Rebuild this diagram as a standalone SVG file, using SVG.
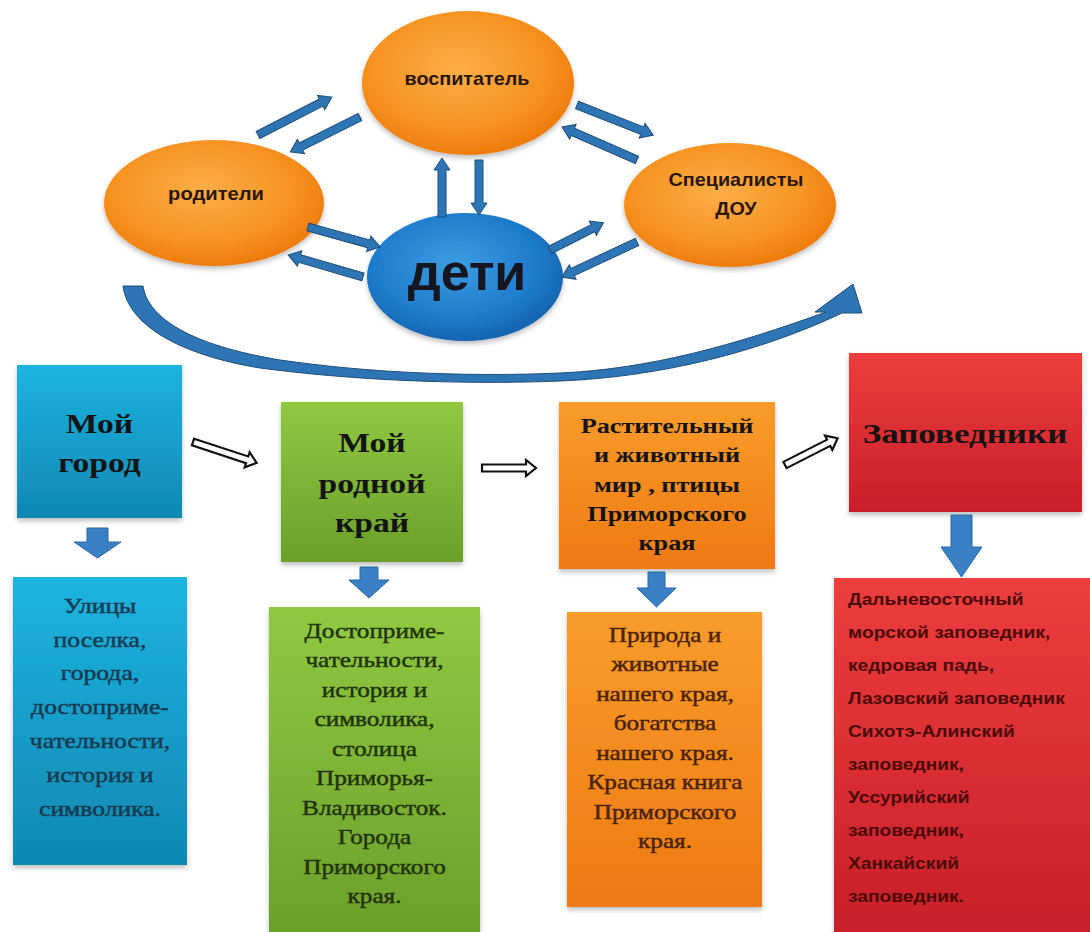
<svg xmlns="http://www.w3.org/2000/svg" width="1090" height="932" viewBox="0 0 1090 932">
<defs>
<style>
.ell{font-family:"Liberation Sans",Arial,sans-serif;font-weight:bold;font-size:18px;fill:#2a1608;text-anchor:middle}
.hdr{font-family:"Liberation Serif","Times New Roman",serif;font-weight:bold;text-anchor:middle;fill:#141414}
.body{font-family:"Liberation Serif","Times New Roman",serif;font-size:21px;text-anchor:middle;stroke-width:0.45}
.red{font-family:"Liberation Sans",Arial,sans-serif;font-weight:bold;font-size:16px;fill:#4a0a0a}
.barrow{fill:#2e75b6;stroke:#1f4e79;stroke-width:1}
.harrow{fill:#ffffff;stroke:#111111;stroke-width:2.2;stroke-linejoin:miter}
.fat{fill:#3a80c4;stroke:#2a66a3;stroke-width:1}
</style>
<radialGradient id="gOr" cx="0.45" cy="0.4" r="0.6">
<stop offset="0" stop-color="#fcae48"/><stop offset="0.7" stop-color="#f7921f"/><stop offset="1" stop-color="#ee7c0c"/>
</radialGradient>
<radialGradient id="gBl" cx="0.45" cy="0.4" r="0.6">
<stop offset="0" stop-color="#3d9de2"/><stop offset="0.7" stop-color="#1e7bcc"/><stop offset="1" stop-color="#1564b0"/>
</radialGradient>
<linearGradient id="gBlue" x1="0" y1="0" x2="0" y2="1"><stop offset="0" stop-color="#1db4e0"/><stop offset="1" stop-color="#0f88b2"/></linearGradient>
<linearGradient id="gGreen" x1="0" y1="0" x2="0" y2="1"><stop offset="0" stop-color="#90c941"/><stop offset="1" stop-color="#6b9f2a"/></linearGradient>
<linearGradient id="gOrange" x1="0" y1="0" x2="0" y2="1"><stop offset="0" stop-color="#f99c2b"/><stop offset="1" stop-color="#ee7a12"/></linearGradient>
<linearGradient id="gRed" x1="0" y1="0" x2="0" y2="1"><stop offset="0" stop-color="#ee3d3d"/><stop offset="1" stop-color="#c81f28"/></linearGradient>
<filter id="sh" x="-10%" y="-10%" width="120%" height="125%">
<feDropShadow dx="0" dy="3" stdDeviation="2.5" flood-color="#000" flood-opacity="0.25"/>
</filter>
</defs>
<rect width="1090" height="932" fill="#ffffff"/>

<g id="n-vospitatel">
<ellipse cx="468" cy="83" rx="106" ry="72" fill="url(#gOr)" filter="url(#sh)"/>
<g transform="translate(467,0) scale(1.1,1)"><text class="ell" x="0" y="85">воспитатель</text></g>
</g>
<g id="n-roditeli">
<ellipse cx="214" cy="203" rx="110" ry="63" fill="url(#gOr)" filter="url(#sh)"/>
<g transform="translate(216,0) scale(1.12,1)"><text class="ell" x="0" y="200">родители</text></g>
</g>
<g id="n-specialisty">
<ellipse cx="730" cy="205" rx="106" ry="62" fill="url(#gOr)" filter="url(#sh)"/>
<g transform="translate(736,0) scale(1.1,1)"><text class="ell" x="0" y="186">Специалисты</text><text class="ell" x="0" y="215">ДОУ</text></g>
</g>
<g id="n-deti">
<ellipse cx="465" cy="277" rx="98" ry="64" fill="url(#gBl)" filter="url(#sh)"/>
<text x="467" y="290" font-family="'Liberation Sans',Arial,sans-serif" font-weight="bold" font-size="52" fill="#161620" text-anchor="middle">дети</text>
</g>

<g id="n-moy-gorod">
<rect x="17" y="365" width="165" height="153" fill="url(#gBlue)" filter="url(#sh)"/>
<g transform="translate(99.5,0) scale(1.2,1)"><text class="hdr" font-size="28" x="0" y="433">Мой</text><text class="hdr" font-size="28" x="0" y="472">город</text></g>
</g>
<g id="n-ulitsy">
<rect x="13" y="577" width="174" height="288" fill="url(#gBlue)" filter="url(#sh)"/>
<g transform="translate(100,0) scale(1.22,1)" fill="#173a50" stroke="#173a50">
<text class="body" x="0" y="613">Улицы</text>
<text class="body" x="0" y="647">поселка,</text>
<text class="body" x="0" y="680">города,</text>
<text class="body" x="0" y="714">достоприме-</text>
<text class="body" x="0" y="748">чательности,</text>
<text class="body" x="0" y="782">история и</text>
<text class="body" x="0" y="816">символика.</text>
</g>
</g>

<g id="n-rodnoy-kray">
<rect x="281" y="402" width="182" height="160" fill="url(#gGreen)" filter="url(#sh)"/>
<g transform="translate(372,0) scale(1.2,1)"><text class="hdr" font-size="28" x="0" y="452">Мой</text><text class="hdr" font-size="28" x="0" y="493">родной</text><text class="hdr" font-size="28" x="0" y="532">край</text></g>
</g>
<g id="n-dostoprim">
<rect x="269" y="607" width="211" height="330" fill="url(#gGreen)" filter="url(#sh)"/>
<g transform="translate(374.5,0) scale(1.2,1)" fill="#22330c" stroke="#22330c">
<text class="body" x="0" y="638">Достоприме-</text>
<text class="body" x="0" y="667.5">чательности,</text>
<text class="body" x="0" y="697">история и</text>
<text class="body" x="0" y="726.5">символика,</text>
<text class="body" x="0" y="756">столица</text>
<text class="body" x="0" y="785.5">Приморья-</text>
<text class="body" x="0" y="815">Владивосток.</text>
<text class="body" x="0" y="844.5">Города</text>
<text class="body" x="0" y="874">Приморского</text>
<text class="body" x="0" y="903.5">края.</text>
</g>
</g>

<g id="n-rastit">
<rect x="559" y="402" width="216" height="167" fill="url(#gOrange)" filter="url(#sh)"/>
<g transform="translate(667,0) scale(1.25,1)" fill="#2b1406">
<text class="hdr" font-size="21" fill="#2b1406" x="0" y="433">Растительный</text>
<text class="hdr" font-size="21" fill="#2b1406" x="0" y="462">и животный</text>
<text class="hdr" font-size="21" fill="#2b1406" x="0" y="492">мир , птицы</text>
<text class="hdr" font-size="21" fill="#2b1406" x="0" y="521">Приморского</text>
<text class="hdr" font-size="21" fill="#2b1406" x="0" y="550">края</text>
</g>
</g>
<g id="n-priroda">
<rect x="567" y="612" width="195" height="295" fill="url(#gOrange)" filter="url(#sh)"/>
<g transform="translate(665,0) scale(1.2,1)" fill="#4b2300" stroke="#4b2300">
<text class="body" x="0" y="642">Природа и</text>
<text class="body" x="0" y="671.5">животные</text>
<text class="body" x="0" y="701">нашего края,</text>
<text class="body" x="0" y="730.5">богатства</text>
<text class="body" x="0" y="760">нашего края.</text>
<text class="body" x="0" y="789.5">Красная книга</text>
<text class="body" x="0" y="819">Приморского</text>
<text class="body" x="0" y="848.5">края.</text>
</g>
</g>

<g id="n-zapovedniki">
<rect x="849" y="353" width="233" height="159" fill="url(#gRed)" filter="url(#sh)"/>
<g transform="translate(965,0) scale(1.25,1)"><text class="hdr" font-size="28" fill="#2a0505" x="0" y="443">Заповедники</text></g>
</g>
<g id="n-zap-list">
<rect x="834" y="578" width="260" height="360" fill="url(#gRed)" filter="url(#sh)"/>
<g transform="translate(848,0) scale(1.2,1)">
<text class="red" x="0" y="605">Дальневосточный</text>
<text class="red" x="0" y="638">морской заповедник,</text>
<text class="red" x="0" y="671">кедровая падь,</text>
<text class="red" x="0" y="704">Лазовский заповедник</text>
<text class="red" x="0" y="737">Сихотэ-Алинский</text>
<text class="red" x="0" y="770">заповедник,</text>
<text class="red" x="0" y="803">Уссурийский</text>
<text class="red" x="0" y="836">заповедник,</text>
<text class="red" x="0" y="869">Ханкайский</text>
<text class="red" x="0" y="902">заповедник.</text>
</g>
</g>

<g id="connectors">
<path class="barrow" transform="translate(258,135) rotate(-27.2)" d="M0,-4 H71 V-8 L83,0 L71,8 V4 H0 Z"/>
<path class="barrow" transform="translate(360,117) rotate(153.4)" d="M0,-4 H66 V-8 L78,0 L66,8 V4 H0 Z"/>
<path class="barrow" transform="translate(308,227) rotate(15.5)" d="M0,-4 H63 V-8 L75,0 L63,8 V4 H0 Z"/>
<path class="barrow" transform="translate(363,277) rotate(196.3)" d="M0,-4 H66 V-8 L78,0 L66,8 V4 H0 Z"/>
<path class="barrow" transform="translate(577,105) rotate(21.5)" d="M0,-4 H70 V-8 L82,0 L70,8 V4 H0 Z"/>
<path class="barrow" transform="translate(637,160) rotate(203.75)" d="M0,-4 H70 V-8 L82,0 L70,8 V4 H0 Z"/>
<path class="barrow" transform="translate(550,250) rotate(-27)" d="M0,-4 H48 V-8 L60,0 L48,8 V4 H0 Z"/>
<path class="barrow" transform="translate(637,242) rotate(155)" d="M0,-4 H71 V-8 L83,0 L71,8 V4 H0 Z"/>
<path class="barrow" transform="translate(442,217) rotate(-90)" d="M0,-4 H47 V-8 L59,0 L47,8 V4 H0 Z"/>
<path class="barrow" transform="translate(479,160) rotate(90)" d="M0,-4 H43 V-8 L55,0 L43,8 V4 H0 Z"/>
<path class="barrow" stroke-width="1.5" d="M123,286 H143 C148,318 190,345 280,360 C370,373 470,377 560,373 C650,369 735,345 826,312 L815,312 L853,284 L862,313 L842,313 C760,352 660,377 560,381 C460,385 350,380 260,368 C180,355 128,325 123,286 Z"/>
<path class="harrow" transform="translate(193,442) rotate(18.2)" d="M0,-3.5 H57 V-8 L67,0 L57,8 V3.5 H0 Z"/>
<path class="harrow" transform="translate(482,468)" d="M0,-3.5 H44 V-8 L54,0 L44,8 V3.5 H0 Z"/>
<path class="harrow" transform="translate(785,465) rotate(-27)" d="M0,-3.5 H49 V-8 L59,0 L49,8 V3.5 H0 Z"/>
<path class="fat" d="M87,528 H108 V542 H121 L97.5,558 L74,542 H87 Z"/>
<path class="fat" d="M360,567 H378 V580 H389 L369,598 L349,580 H360 Z"/>
<path class="fat" d="M648,572 H665 V588 H676 L656.5,607 L637,588 H648 Z"/>
<path class="fat" d="M951,515 H972 V547 H982 L961.5,577 L941,547 H951 Z"/>
</g>
</svg>
